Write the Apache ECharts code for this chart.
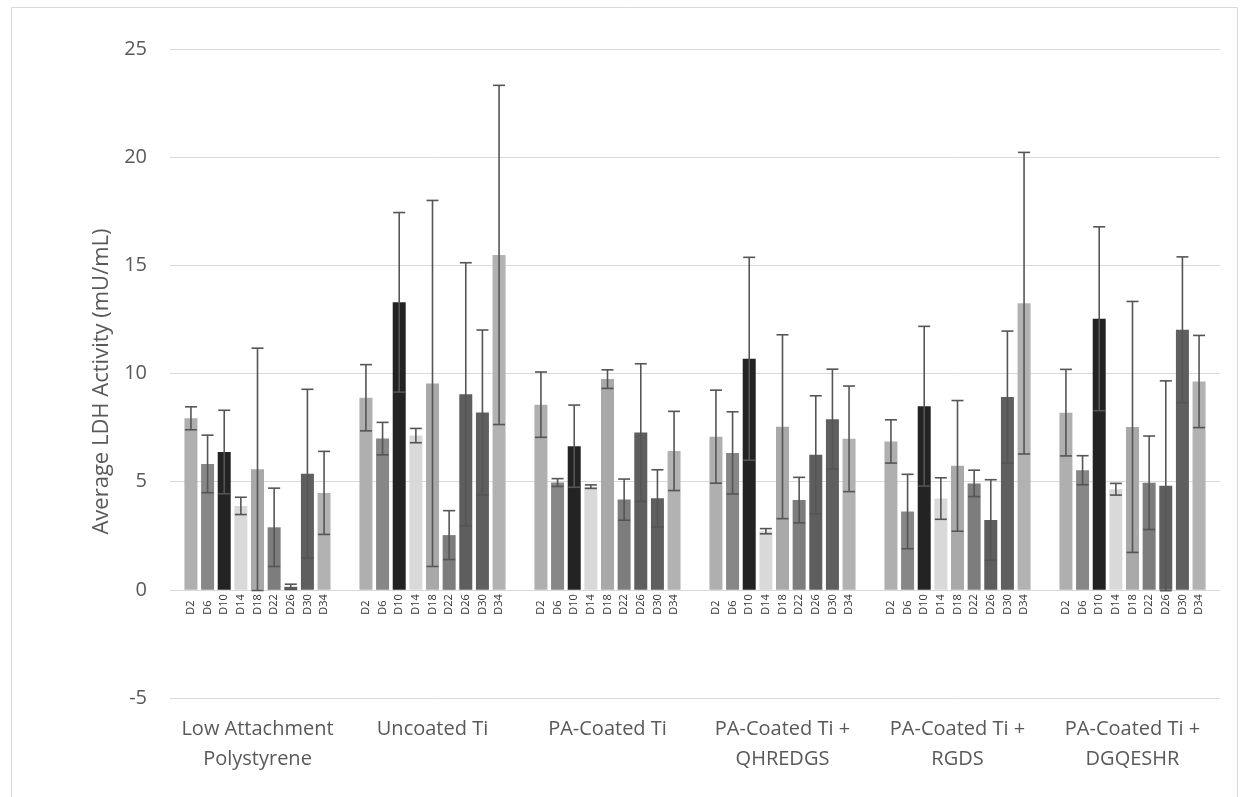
<!DOCTYPE html>
<html><head><meta charset="utf-8">
<script src="https://cdn.jsdelivr.net/npm/echarts@6/dist/echarts.min.js"></script>
<style>html,body{margin:0;padding:0;background:#fff}#c{width:1248px;height:797px}</style>
</head><body><div id="c"></div>
<script>
// ---- data ----
const groups = ['Low Attachment\nPolystyrene', 'Uncoated Ti', 'PA-Coated Ti', 'PA-Coated Ti +\nQHREDGS', 'PA-Coated Ti +\nRGDS', 'PA-Coated Ti +\nDGQESHR'];
const days = ['D2', 'D6', 'D10', 'D14', 'D18', 'D22', 'D26', 'D30', 'D34'];
const yTicks = [-5, 0, 5, 10, 15, 20, 25];

const meanD2  = [7.93, 8.88, 8.56, 7.08, 6.86, 8.19];
const errD2   = [0.53, 1.53, 1.51, 2.15, 1.00, 2.00];
const meanD6  = [5.82, 6.99, 4.96, 6.33, 3.62, 5.53];
const errD6   = [1.33, 0.75, 0.18, 1.90, 1.72, 0.67];
const meanD10 = [6.37, 13.29, 6.64, 10.68, 8.49, 12.53];
const errD10  = [1.93, 4.15, 1.90, 4.69, 3.69, 4.25];
const meanD14 = [3.88, 7.13, 4.77, 2.71, 4.22, 4.65];
const errD14  = [0.40, 0.33, 0.08, 0.12, 0.96, 0.27];
const meanD18 = [5.57, 9.54, 9.74, 7.54, 5.73, 7.53];
const errD18  = [5.60, 8.46, 0.43, 4.25, 3.02, 5.80];
const meanD22 = [2.89, 2.53, 4.17, 4.15, 4.92, 4.95];
const errD22  = [1.81, 1.13, 0.95, 1.05, 0.61, 2.16];
const meanD26 = [0.14, 9.04, 7.27, 6.24, 3.23, 4.81];
const errD26  = [0.12, 6.08, 3.18, 2.73, 1.86, 4.85];
const meanD30 = [5.37, 8.20, 4.23, 7.89, 8.91, 12.02];
const errD30  = [3.90, 3.81, 1.32, 2.31, 3.05, 3.37];
const meanD34 = [4.48, 15.48, 6.42, 6.98, 13.25, 9.63];
const errD34  = [1.92, 7.84, 1.83, 2.44, 6.97, 2.13];

const means = [meanD2, meanD6, meanD10, meanD14, meanD18, meanD22, meanD26, meanD30, meanD34];
const errs  = [errD2, errD6, errD10, errD14, errD18, errD22, errD26, errD30, errD34];

// ---- style ----
const colors = ['#afafaf', '#878787', '#232323', '#d9d9d9', '#a9a9a9', '#7d7d7d', '#5e5e5e', '#5f5f5f', '#b2b2b2'];
const BAR_W = 13;
const GAP_RATIO = 0.28;
const PITCH = BAR_W * (1 + GAP_RATIO);
const FONT = '"Open Sans", "DejaVu Sans", sans-serif';

const chart = echarts.init(document.getElementById('c'), null, {renderer: 'canvas'});

const barSeries = days.map((d, i) => ({
  name: d,
  type: 'bar',
  data: means[i],
  barWidth: BAR_W,
  barGap: (GAP_RATIO * 100) + '%',
  itemStyle: {color: colors[i]},
  label: {
    show: true,
    formatter: '{a}',
    position: 'bottom',
    distance: 28,
    rotate: 90,
    align: 'left',
    verticalAlign: 'middle',
    offset: [3, 0],
    fontSize: 11,
    fontFamily: FONT,
    color: '#333333'
  },
  emphasis: {disabled: true},
  animation: false
}));

const errData = [];
days.forEach((d, i) => {
  means[i].forEach((m, g) => {
    errData.push([g, i, m - errs[i][g], m + errs[i][g]]);
  });
});

const errSeries = {
  type: 'custom',
  z: 10,
  animation: false,
  encode: {x: 0, y: [2, 3]},
  data: errData,
  renderItem: function (params, api) {
    const g = api.value(0), i = api.value(1), lo = api.value(2), hi = api.value(3);
    const pHi = api.coord([g, hi]);
    const pLo = api.coord([g, lo]);
    const x = pHi[0] + (i - (days.length - 1) / 2) * PITCH;
    const half = 6;
    const st = {stroke: '#555555', lineWidth: 1.6};
    return {
      type: 'group',
      children: [
        {type: 'line', shape: {x1: x, y1: pHi[1], x2: x, y2: pLo[1]}, style: st},
        {type: 'line', shape: {x1: x - half, y1: pHi[1], x2: x + half, y2: pHi[1]}, style: st},
        {type: 'line', shape: {x1: x - half, y1: pLo[1], x2: x + half, y2: pLo[1]}, style: st}
      ]
    };
  }
};

chart.setOption({
  backgroundColor: '#ffffff',
  animation: false,
  graphic: [{
    type: 'rect',
    shape: {x: 11.5, y: 7.5, width: 1226, height: 800},
    style: {fill: 'none', stroke: '#d9d9d9', lineWidth: 1},
    silent: true
  }],
  grid: {left: 170, right: 28, top: 49, bottom: 99, containLabel: false},
  xAxis: {
    type: 'category',
    data: groups,
    axisLine: {show: false, onZero: false},
    axisTick: {show: false},
    axisLabel: {
      interval: 0,
      margin: 16,
      fontSize: 20,
      lineHeight: 30,
      fontFamily: FONT,
      color: '#595959'
    },
    splitLine: {show: false}
  },
  yAxis: {
    type: 'value',
    min: yTicks[0],
    max: yTicks[yTicks.length - 1],
    interval: yTicks[1] - yTicks[0],
    name: 'Average LDH Activity (mU/mL)',
    nameLocation: 'middle',
    nameGap: 57,
    nameTextStyle: {fontSize: 22, fontFamily: FONT, color: '#595959', padding: [0, 16, 0, 0]},
    axisLine: {show: false},
    axisTick: {show: false},
    axisLabel: {margin: 23, fontSize: 20, fontFamily: FONT, color: '#595959'},
    splitLine: {lineStyle: {color: '#d9d9d9', width: 1}}
  },
  series: [...barSeries, errSeries]
});
</script>
</body></html>
